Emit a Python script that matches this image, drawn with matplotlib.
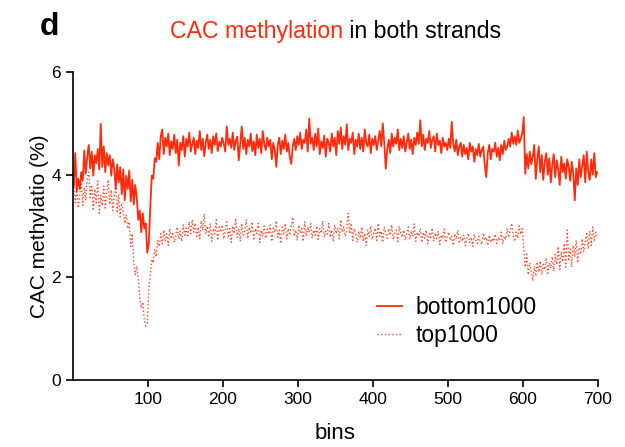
import numpy as np
import matplotlib
matplotlib.use("Agg")
import matplotlib.pyplot as plt

plt.rcParams['font.family'] = ['Liberation Sans', 'DejaVu Sans']

# bins sampled every 2 (1, 3, ..., 699)
bins = np.arange(1, 701, 2)

bottom1000 = [
    3.78, 4.42, 3.68, 3.92, 3.72, 4.05, 3.88, 4.47, 4.02, 4.35,
    4.58, 4.12, 4.45, 3.98, 4.38, 4.22, 4.50, 4.10, 4.99, 4.15,
    4.55, 4.05, 4.42, 4.18, 4.38, 3.98, 4.30, 4.12, 3.72, 4.20,
    3.85, 4.15, 3.62, 4.10, 3.50, 3.98, 3.72, 4.08, 3.48, 3.90,
    3.42, 3.80, 3.55, 3.12, 3.30, 2.88, 3.25, 2.95, 3.05, 2.48,
    2.65, 3.35, 3.98, 3.92, 4.32, 4.25, 4.62, 4.30, 4.75, 4.88,
    4.40, 4.72, 4.55, 4.80, 4.38, 4.65, 4.50, 4.78, 4.42, 4.68,
    4.18, 4.62, 4.48, 4.75, 4.35, 4.70, 4.55, 4.82, 4.45, 4.60,
    4.72, 4.40, 4.66, 4.52, 4.85, 4.48, 4.70, 4.36, 4.62, 4.78,
    4.50, 4.68, 4.42, 4.75, 4.58, 4.80, 4.46, 4.64, 4.55, 4.72,
    4.60, 4.45, 4.94, 4.58, 4.70, 4.52, 4.82, 4.48, 4.66, 4.74,
    4.28, 4.62, 4.94, 4.50, 4.72, 4.40, 4.68, 4.55, 4.80, 4.46,
    4.65, 4.38, 4.78, 4.52, 4.70, 4.42, 4.85, 4.60, 4.48, 4.72,
    4.55, 4.68, 4.30, 4.62, 4.48, 4.15, 4.58, 4.72, 4.40, 4.66,
    4.50, 4.78, 4.45, 4.62, 4.35, 4.21, 4.55, 4.70, 4.48, 4.75,
    4.58, 4.82, 4.50, 4.68, 4.62, 4.88, 4.45, 5.09, 4.60, 4.72,
    4.48, 4.80, 4.55, 4.90, 4.40, 4.65, 4.52, 4.76, 4.35, 4.70,
    4.62, 4.45, 4.80, 4.55, 4.72, 4.38, 4.85, 4.60, 4.92, 4.50,
    4.75, 4.58, 4.98, 4.48, 4.70, 4.62, 4.82, 4.40, 4.68, 4.55,
    4.80, 4.50, 4.72, 4.45, 4.88, 4.62, 4.55, 4.78, 4.42, 4.70,
    4.58, 4.75, 4.48, 4.66, 4.85, 4.55, 5.00, 4.62, 4.12, 4.50,
    4.68, 4.42, 4.80, 4.55, 4.72, 4.60, 4.88, 4.48, 4.70, 4.52,
    4.75, 4.45, 4.62, 4.80, 4.50, 4.68, 4.40, 4.72, 4.58, 4.82,
    4.60, 5.06, 4.55, 4.78, 4.48, 4.70, 4.62, 4.85, 4.52, 4.68,
    4.75, 4.45, 4.80, 4.58, 4.66, 4.42, 4.72, 4.55, 4.62, 4.48,
    4.70, 4.52, 5.03, 4.60, 4.45, 4.68, 4.38, 4.55, 4.62, 4.35,
    4.58, 4.40, 4.52, 4.30, 4.62, 4.45, 4.55, 4.25, 4.50, 4.38,
    4.60, 4.35, 4.48, 4.55, 4.20, 3.95, 4.42, 4.58, 4.30, 4.50,
    4.45, 4.62, 4.35, 4.52, 4.28, 4.58, 4.40, 4.66, 4.48, 4.55,
    4.70, 4.55, 4.82, 4.60, 4.75, 4.58, 4.86, 4.62, 4.70, 4.80,
    5.12, 4.02, 4.40, 4.12, 4.45, 4.20, 4.35, 4.58, 3.92, 4.30,
    4.55, 4.05, 4.38, 3.90, 4.25, 4.42, 4.00, 4.32, 3.85, 4.20,
    4.40, 3.95, 4.28, 4.10, 3.80, 4.35, 4.05, 4.22, 3.92, 4.30,
    4.15, 3.88, 4.25, 4.02, 3.50, 4.12, 3.80, 4.30, 3.95, 4.18,
    4.38, 3.85, 4.45, 4.05, 3.90, 4.30, 4.00, 4.42, 3.95, 4.05,
]

top1000 = [
    3.90, 3.45, 3.70, 3.35, 3.62, 3.85, 3.40, 3.75, 3.50, 3.95,
    4.05, 3.55, 3.80, 3.30, 3.72, 3.45, 3.88, 3.25, 3.60, 3.40,
    3.78, 3.35, 3.65, 3.90, 3.42, 3.70, 3.30, 3.58, 3.80, 3.25,
    3.62, 3.18, 3.45, 3.28, 3.05, 3.22, 2.95, 3.08, 2.60, 2.85,
    2.30, 2.05, 2.22, 1.98, 1.60, 1.40, 1.52, 1.18, 1.05, 1.10,
    1.75, 2.05, 2.35, 2.28, 2.55, 2.40, 2.72, 2.60, 2.85, 2.65,
    2.92, 2.70, 2.85, 2.62, 2.95, 2.75, 2.88, 2.68, 2.82, 2.98,
    2.75, 2.90, 2.70, 3.02, 2.82, 2.96, 2.78, 3.08, 2.85, 3.12,
    2.88, 3.05, 2.80, 2.98, 2.75, 3.10, 2.92, 3.24, 2.85, 3.00,
    2.78, 3.05, 2.70, 2.95, 2.85, 3.12, 2.72, 2.98, 2.88, 3.02,
    2.75, 2.92, 3.08, 2.80, 2.95, 2.68, 3.00, 2.85, 3.15, 2.78,
    2.95, 2.70, 3.05, 2.82, 2.90, 3.12, 2.75, 2.98, 2.86, 3.08,
    2.72, 2.95, 2.85, 3.05, 2.68, 2.92, 2.80, 3.00, 2.76, 2.94,
    2.84, 3.02, 2.70, 2.96, 2.88, 3.10, 2.78, 2.92, 2.66, 2.98,
    2.85, 3.05, 2.75, 2.95, 2.82, 3.00, 3.17, 2.80, 2.92, 2.72,
    3.02, 2.86, 2.95, 2.70, 3.08, 2.80, 2.98, 2.88, 3.05, 2.76,
    2.92, 2.82, 3.00, 2.74, 2.95, 2.86, 3.10, 2.78, 2.90, 2.84,
    3.05, 2.78, 2.92, 2.70, 3.02, 2.85, 2.96, 2.75, 3.12, 2.88,
    2.98, 2.80, 2.92, 3.25, 2.85, 3.05, 2.72, 2.95, 2.82, 2.68,
    2.90, 2.76, 2.98, 2.70, 2.86, 2.62, 2.92, 2.80, 3.00, 2.74,
    2.88, 2.96, 2.72, 3.05, 2.80, 2.90, 2.68, 2.98, 2.84, 2.76,
    2.95, 2.82, 3.02, 2.74, 2.88, 2.92, 2.70, 3.00, 2.85, 2.78,
    2.92, 2.72, 2.86, 2.98, 2.75, 2.90, 2.80, 3.04, 2.70, 2.88,
    2.80, 2.95, 2.68, 2.88, 2.76, 2.92, 2.65, 2.85, 2.78, 2.96,
    2.70, 2.86, 2.75, 2.90, 2.64, 2.82, 2.76, 2.94, 2.68, 2.80,
    2.88, 2.72, 2.80, 2.62, 2.85, 2.74, 2.92, 2.66, 2.78, 2.70,
    2.82, 2.62, 2.75, 2.86, 2.68, 2.78, 2.60, 2.84, 2.72, 2.66,
    2.80, 2.70, 2.64, 2.86, 2.72, 2.78, 2.62, 2.82, 2.68, 2.76,
    2.70, 2.84, 2.66, 2.78, 2.72, 2.88, 2.65, 2.80, 2.74, 2.95,
    2.78, 2.92, 3.05, 2.80, 2.70, 2.88, 2.76, 3.00, 2.84, 2.95,
    2.55, 2.20, 2.45, 2.05, 2.28, 2.12, 1.93, 2.22, 2.02, 2.30,
    2.10, 2.32, 2.05, 2.25, 2.15, 2.38, 2.08, 2.28, 2.18, 2.40,
    2.12, 2.45, 2.25, 2.60, 2.15, 2.50, 2.30, 2.66, 2.20, 2.92,
    2.35, 2.55, 2.20, 2.62, 2.40, 2.72, 2.28, 2.58, 2.45, 2.75,
    2.50, 2.70, 2.85, 2.55, 2.90, 2.62, 2.98, 2.72, 2.88, 2.80,
]

x_ticks = [100, 200, 300, 400, 500, 600, 700]
y_ticks = [0, 2, 4, 6]

RED = '#FF2A0A'

fig = plt.figure(figsize=(6.25, 4.47), dpi=100)
ax = fig.add_axes([73/625, 1-380/447, 525/625, 308/447])

ax.plot(bins, bottom1000, color=RED, lw=1.3, label='bottom1000')
ax.plot(bins, top1000, color=RED, lw=1.0, ls=':', alpha=0.85, label='top1000')

ax.set_xlim(0, 700)
ax.set_ylim(0, 6)
ax.set_xticks(x_ticks)
ax.set_yticks(y_ticks)
ax.spines['top'].set_visible(False)
ax.spines['right'].set_visible(False)
for s in ('left', 'bottom'):
    ax.spines[s].set_linewidth(1.2)
ax.tick_params(axis='both', labelsize=12.5, width=1.2, length=5, direction='out')
ax.set_xlabel('bins', fontsize=16, labelpad=12)
ax.set_ylabel('CAC methylatio (%)', fontsize=15, labelpad=2)

leg = ax.legend(loc='upper left', bbox_to_anchor=(366/625, 1-285/447),
                bbox_transform=fig.transFigure, frameon=False, borderpad=0,
                fontsize=16.5, handlelength=1.05, handletextpad=0.6, labelspacing=0.2)

fig.text(40/625, 1-35/447, 'd', fontsize=23, fontweight='bold', va='baseline', ha='left')
t1 = fig.text(170/625, 1-38/447, 'CAC methylation', fontsize=16.7, color=RED,
              va='baseline', ha='left')
ann = ax.annotate(' in both strands', xy=(1, 0), xycoords=t1, va='bottom', ha='left',
                  fontsize=16.7, color='black', annotation_clip=False)

fig.savefig('out.png', dpi=100)
